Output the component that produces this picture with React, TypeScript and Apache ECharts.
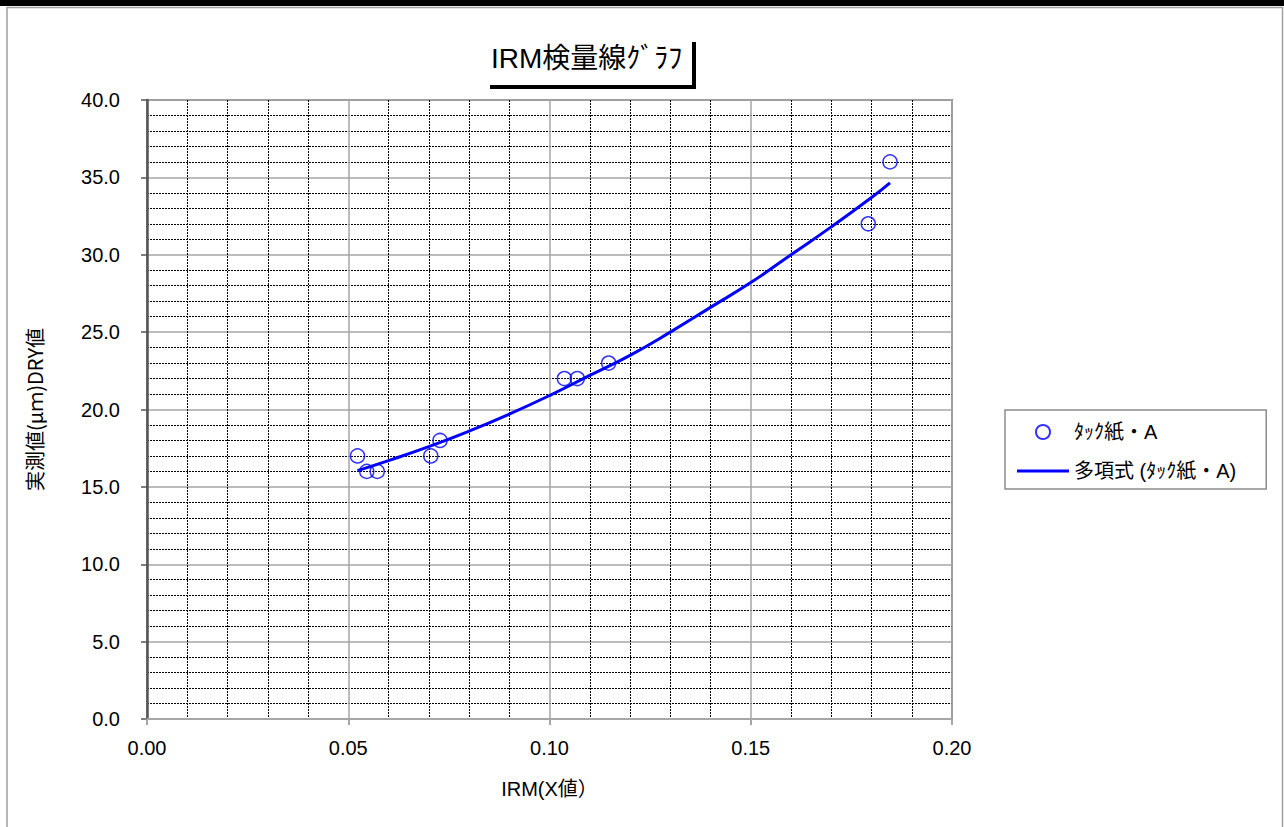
import React, { useEffect, useRef } from "react";
import * as echarts from "echarts";

const titleText = "IRM検量線ｸﾞﾗﾌ";
const xAxisName = "IRM(X値）";
const yAxisName = "実測値(μｍ)DRY値";
const scatterName = "ﾀｯｸ紙・A";
const trendName = "多項式 (ﾀｯｸ紙・A)";

const irmX = [0.0523, 0.0546, 0.0572, 0.0705, 0.0728, 0.1037, 0.1069, 0.1147, 0.1792, 0.1846];
const dryY = [17, 16, 16, 17, 18, 22, 22, 23, 32, 36];

const trendX = [0.0523, 0.06, 0.07, 0.08, 0.09, 0.1, 0.11, 0.12, 0.13, 0.14, 0.15, 0.16, 0.17, 0.18, 0.1846];
const trendY = [16.05, 16.7, 17.6, 18.6, 19.7, 20.9, 22.2, 23.5, 25.0, 26.6, 28.2, 30.0, 31.8, 33.7, 34.65];

const FONT = "'Liberation Sans', 'Noto Sans CJK JP', sans-serif";
const CJK = "'Noto Sans CJK JP', 'Liberation Sans', sans-serif";
const BLUE = "#0000ff";
const LINE_ICON =
  "path://M0,0 L0.01,0 L0,0.01 Z M0,5.5 L52,5.5 L52,8.5 L0,8.5 Z M52,14 L51.99,14 L52,13.99 Z";

export default function App() {
  const ref = useRef<HTMLDivElement>(null);

  useEffect(() => {
    document.body.style.margin = "0";
    if (!ref.current) return;
    const chart = echarts.init(ref.current, undefined, { renderer: "svg" });
    const option: any = {
      animation: false,
      backgroundColor: "#ffffff",
      textStyle: { fontFamily: FONT },
      title: {
        text: titleText,
        left: 491,
        top: 44,
        padding: 0,
        textStyle: { fontFamily: FONT, fontSize: 28, fontWeight: "normal", color: "#000" },
      },
      graphic: [
        { type: "rect", shape: { x: 0, y: 0, width: 1284, height: 6 }, style: { fill: "#000" }, silent: true },
        {
          type: "rect",
          shape: { x: 7, y: 7.5, width: 1275.5, height: 830 },
          style: { fill: "none", stroke: "#a0a0a0", lineWidth: 1.5 },
          silent: true,
        },
        { type: "rect", shape: { x: 490, y: 85, width: 206, height: 4 }, style: { fill: "#000" }, silent: true },
        { type: "rect", shape: { x: 692, y: 42, width: 4, height: 47 }, style: { fill: "#000" }, silent: true },
      ],
      legend: {
        orient: "vertical",
        left: 1005,
        top: 410,
        padding: [12, 30, 8, 12],
        itemWidth: 52,
        itemHeight: 14,
        itemGap: 19,
        borderColor: "#8c8c8c",
        borderWidth: 1.5,
        textStyle: { fontFamily: FONT, fontSize: 20, color: "#000" },
        data: [
          { name: scatterName },
          { name: trendName, icon: LINE_ICON, itemStyle: { color: BLUE, borderWidth: 0 } },
        ],
      },
      grid: {
        left: 147,
        top: 100,
        right: 332,
        bottom: 108,
        show: true,
        borderColor: "#8c8c8c",
        borderWidth: 2,
      },
      xAxis: {
        type: "value",
        min: 0,
        max: 0.2,
        interval: 0.05,
        name: xAxisName,
        nameLocation: "middle",
        nameGap: 60,
        nameTextStyle: { fontFamily: FONT, fontSize: 20, color: "#000" },
        axisLine: { show: true, lineStyle: { color: "#a6a6a6", width: 2 } },
        axisTick: { show: true, length: 6, lineStyle: { color: "#a6a6a6", width: 2 } },
        axisLabel: {
          margin: 19,
          fontFamily: FONT,
          fontSize: 20,
          color: "#000",
          formatter: (v: number) => v.toFixed(2),
        },
        splitLine: { show: true, lineStyle: { color: "#a6a6a6", width: 1.5 } },
        minorTick: { show: false, splitNumber: 5 },
        minorSplitLine: { show: true, lineStyle: { color: "#000", width: 1, type: [2, 1] } },
      },
      yAxis: {
        type: "value",
        min: 0,
        max: 40,
        interval: 5,
        name: yAxisName,
        nameLocation: "middle",
        nameRotate: 90,
        nameGap: 103,
        nameTextStyle: { fontFamily: CJK, fontSize: 20, color: "#000" },
        axisLine: { show: true, lineStyle: { color: "#555555", width: 2.5 } },
        axisTick: { show: true, length: 6, lineStyle: { color: "#555555", width: 1.5 } },
        axisLabel: {
          margin: 27,
          fontFamily: FONT,
          fontSize: 20,
          color: "#000",
          formatter: (v: number) => v.toFixed(1),
        },
        splitLine: { show: true, lineStyle: { color: "#a6a6a6", width: 1.5 } },
        minorTick: { show: false, splitNumber: 5 },
        minorSplitLine: { show: true, lineStyle: { color: "#000", width: 1, type: [2, 1] } },
      },
      series: [
        {
          name: scatterName,
          type: "scatter",
          symbol: "circle",
          symbolSize: 14,
          itemStyle: { color: "rgba(255,255,255,0)", borderColor: BLUE, borderWidth: 1.5 },
          data: irmX.map((x, i) => [x, dryY[i]]),
          z: 3,
        },
        {
          name: trendName,
          type: "line",
          smooth: true,
          symbol: "none",
          showSymbol: false,
          lineStyle: { color: BLUE, width: 3 },
          itemStyle: { color: BLUE },
          data: trendX.map((x, i) => [x, trendY[i]]),
          z: 4,
        },
      ],
    };
    chart.setOption(option);
    return () => chart.dispose();
  }, []);

  return <div ref={ref} style={{ width: 1284, height: 827 }} />;
}
